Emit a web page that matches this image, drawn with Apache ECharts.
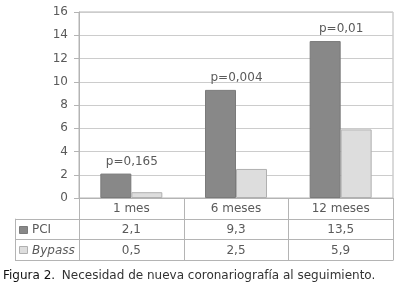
<!DOCTYPE html>
<html>
<head>
<meta charset="utf-8">
<script src="https://cdn.jsdelivr.net/npm/echarts/dist/echarts.min.js"></script>
<style>
  html, body { margin: 0; padding: 0; background: #fff; }
  #chart { width: 400px; height: 291px; }
</style>
</head>
<body>
<div id="chart"></div>
<script>
// data
const categories = ['1 mes', '6 meses', '12 meses'];
const pciValues = [2.1, 9.3, 13.5];
const bypassValues = [0.5, 2.5, 5.9];
const pValues = ['p=0,165', 'p=0,004', 'p=0,01'];
const seriesNames = ['PCI', 'Bypass'];
const yMax = 16;
const yStep = 2;
const caption = ['Figura 2.', 'Necesidad de nueva coronariografía al seguimiento.'];

const FONT = '"DejaVu Sans", sans-serif';
const TEXT = '#5a5a5a';
const LINE = '#b4b4b4';
const PCI_COLOR = '#888888';
const BYPASS_COLOR = '#dddddd';

const gridLeft = 79;
const gridRight = 393;
const gridTop = 12;
const gridBottom = 198;
const tableLeft = 15;
const rowH = 20.7;

const fmt = (v) => String(v).replace('.', ',');

const chart = echarts.init(document.getElementById('chart'));

chart.setOption({
  animation: false,
  textStyle: { fontFamily: FONT },
  grid: {
    left: gridLeft,
    right: 400 - gridRight,
    top: gridTop,
    bottom: 291 - gridBottom,
    show: true,
    borderColor: LINE,
    borderWidth: 1,
  },
  xAxis: {
    type: 'category',
    data: categories,
    axisLine: { lineStyle: { color: LINE } },
    axisTick: { show: false },
    axisLabel: { show: false },
  },
  yAxis: {
    type: 'value',
    min: 0,
    max: yMax,
    interval: yStep,
    axisLine: { show: true, lineStyle: { color: LINE } },
    axisTick: { show: true, length: 5, lineStyle: { color: LINE } },
    axisLabel: { color: TEXT, fontSize: 12, margin: 11, fontFamily: FONT },
    splitLine: { lineStyle: { color: '#cccccc' } },
  },
  series: [
    {
      name: seriesNames[0],
      type: 'bar',
      data: pciValues,
      barWidth: 31,
      barGap: '0%',
      itemStyle: { color: PCI_COLOR, borderColor: '#7a7a7a', borderWidth: 1 },
      label: {
        show: true,
        position: 'top',
        offset: [16, -1],
        color: TEXT,
        fontSize: 12,
        fontFamily: FONT,
        formatter: (p) => pValues[p.dataIndex],
      },
    },
    {
      name: seriesNames[1],
      type: 'bar',
      data: bypassValues,
      barWidth: 31,
      itemStyle: { color: BYPASS_COLOR, borderColor: '#b0b0b0', borderWidth: 1 },
    },
  ],
});

// data table under the axis + caption
function buildTable() {
  const n = categories.length;
  const band = (gridRight - gridLeft) / n;
  const y0 = chart.convertToPixel({ yAxisIndex: 0 }, 0);
  const rows = [y0, y0 + rowH, y0 + 2 * rowH, y0 + 3 * rowH];
  const els = [];
  const line = (x1, y1, x2, y2) => els.push({
    type: 'line',
    shape: { x1, y1, x2, y2 },
    style: { stroke: LINE, lineWidth: 1 },
    silent: true,
  });
  const text = (t, x, y, extra) => els.push({
    type: 'text',
    style: Object.assign({
      text: t, x, y, align: 'center', verticalAlign: 'middle',
      fill: TEXT, font: '12px ' + FONT,
    }, extra || {}),
    silent: true,
  });

  for (let i = 0; i <= n; i++) {
    const x = Math.round(gridLeft + i * band) + 0.5;
    line(x, rows[0], x, rows[3]);
  }
  line(tableLeft + 0.5, rows[1], tableLeft + 0.5, rows[3]);
  for (let r = 1; r <= 3; r++) {
    const y = Math.round(rows[r]) + 0.5;
    line(tableLeft, y, gridRight + 0.5, y);
  }

  categories.forEach((c, i) => {
    const cx = chart.convertToPixel({ xAxisIndex: 0 }, c);
    text(c, cx, (rows[0] + rows[1]) / 2 + 1);
    text(fmt(pciValues[i]), cx, (rows[1] + rows[2]) / 2 + 1);
    text(fmt(bypassValues[i]), cx, (rows[2] + rows[3]) / 2 + 1);
  });

  // row headers with swatches
  const swatches = [PCI_COLOR, BYPASS_COLOR];
  const strokes = ['#7a7a7a', '#b0b0b0'];
  seriesNames.forEach((name, k) => {
    const cy = (rows[k + 1] + rows[k + 2]) / 2;
    els.push({
      type: 'rect',
      shape: { x: 19.5, y: Math.round(cy - 3.5) + 0.5, width: 8, height: 7 },
      style: { fill: swatches[k], stroke: strokes[k], lineWidth: 1 },
      silent: true,
    });
    text(name, 32, cy + 1, {
      align: 'left',
      font: (k === 1 ? 'italic ' : '') + '12px ' + FONT,
    });
  });

  els.push({
    type: 'text',
    style: {
      x: 3, y: 276, verticalAlign: 'middle', align: 'left',
      text: '{b|' + caption[0] + '}  {n|' + caption[1] + '}',
      rich: {
        b: { fill: '#111', font: '12px ' + FONT },
        n: { fill: '#333', font: '12px ' + FONT },
      },
    },
    silent: true,
  });

  chart.setOption({ graphic: { elements: els } });
}

buildTable();
</script>
</body>
</html>
